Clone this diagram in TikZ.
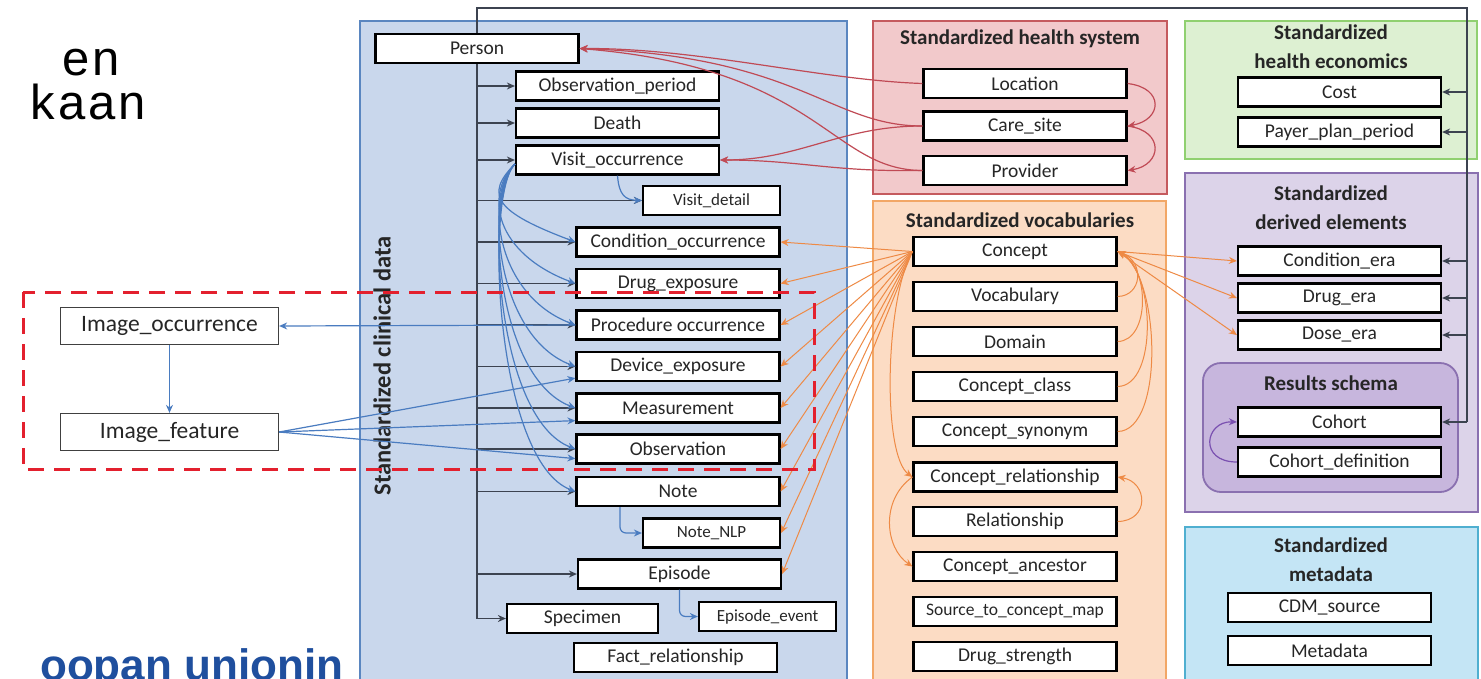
\documentclass[tikz,border=0pt]{standalone}
\usepackage{fontspec}
\setmainfont{Carlito}
\newfontfamily\slidefont[LetterSpace=6.0]{Liberation Sans}
\newfontfamily\slidebold{Liberation Sans}
\usetikzlibrary{arrows.meta, positioning, calc}

\definecolor{clinfill}{HTML}{C9D7EC}
\definecolor{clinline}{HTML}{5A86C0}
\definecolor{hsfill}{HTML}{F2C9CB}
\definecolor{hsline}{HTML}{C55A5E}
\definecolor{vocfill}{HTML}{FCDCC4}
\definecolor{vocline}{HTML}{F2A766}
\definecolor{ecofill}{HTML}{DDF0D2}
\definecolor{ecoline}{HTML}{90D070}
\definecolor{derfill}{HTML}{DCD3E9}
\definecolor{derline}{HTML}{8A70B0}
\definecolor{resfill}{HTML}{C7B6DD}
\definecolor{metafill}{HTML}{C4E5F5}
\definecolor{metaline}{HTML}{4FAFD0}
\definecolor{dashred}{HTML}{E3202E}
\definecolor{linkblue}{HTML}{4A7CC0}
\definecolor{linkred}{HTML}{C04A55}
\definecolor{linkorange}{HTML}{EE8A45}
\definecolor{linkpurple}{HTML}{7A50B0}
\definecolor{treegray}{HTML}{3C4350}
\definecolor{slideblue}{HTML}{1F4F9E}

\begin{document}
\begin{tikzpicture}[x=1pt, y=-1pt, >={Stealth[length=8pt,width=7pt]}]

% Styles
\tikzstyle{tbl} = [rectangle, draw=black, line width=2.2pt, fill=white, minimum width=203pt, minimum height=29pt, inner sep=1pt, text=black!85, font=\fontsize{19.5}{22}\selectfont]
\tikzstyle{tblsmall} = [tbl, minimum width=137pt, font=\fontsize{17}{20}\selectfont]
\tikzstyle{imgtbl} = [rectangle, draw=black!75, line width=1.3pt, fill=white, minimum width=218pt, minimum height=37pt, text=black!85, font=\fontsize{23.5}{26}\selectfont]
\tikzstyle{panel} = [line width=1.8pt]
\tikzstyle{ptitle} = [align=center, text=black!85, font=\bfseries\fontsize{21}{29}\selectfont]
\tikzstyle{treearrow} = [treegray, line width=1.2pt, ->]
\tikzstyle{bluearrow} = [linkblue, line width=1.2pt, ->]
\tikzstyle{redarrow} = [linkred, line width=1.2pt, ->]
\tikzstyle{orangearrow} = [linkorange, line width=1pt, ->]

\useasboundingbox (0,0) rectangle (1481,678);
\clip (0,0) rectangle (1481,678);
\fill[white] (0,0) rectangle (1481,678);

% --- Slide text behind the figure ---
\node (slidea) [anchor=base west, inner sep=0, text depth=0pt, font=\slidefont\fontsize{49}{56}\selectfont] at (62,75) {en};
\node (slideb) [anchor=base east, inner sep=0, text height=24pt, font=\slidefont\fontsize{49}{56}\selectfont] at (146,119) {kaan};
\node (slidec) [anchor=base west, inner sep=0, text=slideblue, font=\slidebold\bfseries\fontsize{44}{50}\selectfont] at (40,680) {oopan unionin};

% --- Panels ---
\draw[panel, fill=clinfill, draw=clinline] (360,21) rectangle (847,690);
\draw[panel, fill=hsfill, draw=hsline] (873,21) rectangle (1167,194);
\draw[panel, fill=vocfill, draw=vocline] (873,201) rectangle (1166,690);
\draw[panel, fill=ecofill, draw=ecoline] (1185,21) rectangle (1477,159);
\draw[panel, fill=derfill, draw=derline] (1185,173) rectangle (1478,512);
\draw[panel, fill=resfill, draw=derline, rounded corners=18pt] (1203,363) rectangle (1458,492);
\draw[panel, fill=metafill, draw=metaline] (1185,527) rectangle (1478,690);

\node (clintitle) [rotate=90, text=black!85, font=\bfseries\fontsize{24.5}{27}\selectfont] at (382,366) {Standardized clinical data};
\node (hstitle) [ptitle] at (1020,39) {Standardized health system};
\node (voctitle) [ptitle] at (1020,220) {Standardized vocabularies};
\node (ecotitle) [ptitle] at (1331,47) {Standardized\\health economics};
\node (dertitle) [ptitle] at (1331,208) {Standardized\\derived elements};
\node (restitle) [ptitle] at (1331,383) {Results schema};
\node (metatitle) [ptitle] at (1331,560) {Standardized\\metadata};

% --- Clinical tables ---
\node (person) [tbl] at (477,48.5) {Person};
\node (obsper) [tbl] at (617.5,86) {Observation\_period};
\node (death) [tbl] at (617.5,123) {Death};
\node (visocc) [tbl] at (617.5,160) {Visit\_occurrence};
\node (visdet) [tblsmall] at (711.5,200.5) {Visit\_detail};
\node (condocc) [tbl] at (678,242) {Condition\_occurrence};
\node (drugexp) [tbl] at (678,283.5) {Drug\_exposure};
\node (prococc) [tbl] at (678,325) {Procedure occurrence};
\node (devexp) [tbl] at (678,366.5) {Device\_exposure};
\node (meas) [tbl] at (678,408) {Measurement};
\node (obs) [tbl] at (678,449) {Observation};
\node (note) [tbl] at (678,491.5) {Note};
\node (notenlp) [tblsmall] at (711.5,533) {Note\_NLP};
\node (episode) [tbl] at (679.5,574) {Episode};
\node (specimen) [tbl, minimum width=151pt] at (582.5,618.5) {Specimen};
\node (epievent) [tblsmall] at (767.5,616.5) {Episode\_event};
\node (factrel) [tbl] at (675.5,657.5) {Fact\_relationship};

% --- Imaging extension ---
\node (imgocc) [imgtbl] at (169.5,326) {Image\_occurrence};
\node (imgfeat) [imgtbl] at (169.5,432) {Image\_feature};

% --- Health system ---
\node (loc) [tbl] at (1025,83.5) {Location};
\node (care) [tbl] at (1025,126) {Care\_site};
\node (prov) [tbl] at (1025,170.5) {Provider};

% --- Vocabularies ---
\node (concept) [tbl] at (1015,251.5) {Concept};
\node (vocab) [tbl] at (1015,296.5) {Vocabulary};
\node (domain) [tbl] at (1015,341.5) {Domain};
\node (cclass) [tbl] at (1015,386.5) {Concept\_class};
\node (csyn) [tbl] at (1015,431.5) {Concept\_synonym};
\node (crel) [tbl] at (1015,477) {Concept\_relationship};
\node (rel) [tbl] at (1015,521.5) {Relationship};
\node (canc) [tbl] at (1015,566.5) {Concept\_ancestor};
\node (srcmap) [tbl, font=\fontsize{17.5}{20}\selectfont] at (1015,611.5) {Source\_to\_concept\_map};
\node (dstr) [tbl] at (1015,656.5) {Drug\_strength};

% --- Economics, derived, results, metadata ---
\node (cost) [tbl] at (1339.5,92) {Cost};
\node (payer) [tbl] at (1339.5,132) {Payer\_plan\_period};
\node (condera) [tbl] at (1339.5,261) {Condition\_era};
\node (drugera) [tbl] at (1339.5,298) {Drug\_era};
\node (doseera) [tbl] at (1339.5,335) {Dose\_era};
\node (cohort) [tbl] at (1339.5,422) {Cohort};
\node (cohortdef) [tbl] at (1339.5,462) {Cohort\_definition};
\node (cdm) [tbl] at (1329.5,607.5) {CDM\_source};
\node (meta) [tbl] at (1329.5,650.5) {Metadata};

% --- Person tree and outer frame ---
\coordinate (trunk) at (477,8);
\coordinate (rtop) at (1467,8);
\draw[treegray, line width=1.2pt] (person.north -| trunk) -- (trunk) -- (rtop) -- (rtop |- cohort.east);
\draw[treegray, line width=1.2pt] (person.south -| trunk) -- (trunk |- specimen.west);
\foreach \t in {obsper, death, visocc, visdet, condocc, drugexp, prococc, devexp, meas, obs, note, episode, specimen}
  \draw[treearrow] (trunk |- \t.west) -- (\t.west);
\foreach \t in {cost, payer, condera, drugera, doseera, cohort}
  \draw[treearrow] (rtop |- \t.east) -- (\t.east);

% --- Visit links ---
\foreach \t in {condocc, drugexp, prococc, devexp, meas, obs, note}
  \draw[bluearrow] ([yshift=-4pt]visocc.west) .. controls (484,195) and ($(\t.west)+(-80,-30)$) .. (\t.west);
\draw[bluearrow] (visocc.south) .. controls (619,195) and (625,200) .. (visdet.west);
\draw[bluearrow, rounded corners=6pt] ([xshift=-58pt]note.south) |- (notenlp.west);
\draw[bluearrow, rounded corners=6pt] (episode.south) |- (epievent.west);

% --- Imaging links ---
\draw[bluearrow] (prococc.west) -- (imgocc.east);
\draw[bluearrow] (imgocc.south) -- (imgfeat.north);
\draw[bluearrow] (imgfeat.east) -- ([yshift=4pt]devexp.south west);
\draw[bluearrow] (imgfeat.east) -- ([yshift=3pt]meas.south west);
\draw[bluearrow] (imgfeat.east) -- ([yshift=6pt]obs.south west);

% --- Health system links ---
\draw[redarrow] (loc.west) .. controls (820,80) and (700,48) .. (person.east);
\draw[redarrow] (care.west) .. controls (830,126) and (800,56) .. (person.east);
\draw[redarrow] (prov.west) .. controls (830,170) and (820,68) .. (person.east);
\draw[redarrow] (care.west) .. controls (840,126) and (800,160) .. (visocc.east);
\draw[redarrow] (prov.west) .. controls (830,172) and (800,160) .. (visocc.east);
\draw[redarrow] (loc.east) .. controls (1165,88) and (1162,120) .. (care.east);
\draw[redarrow] (care.east) .. controls (1165,131) and (1162,165) .. (prov.east);

% --- Vocabulary links ---
\foreach \t in {condocc, drugexp, prococc, devexp, meas, obs, note, notenlp, episode}
  \draw[orangearrow] (concept.west) -- (\t.east);
\foreach \t in {condera, drugera, doseera}
  \draw[orangearrow] (concept.east) -- (\t.west);
\draw[orangearrow] (vocab.east) .. controls (1142,296) and (1145,262) .. (concept.east);
\draw[orangearrow] (domain.east) .. controls (1150,341) and (1150,268) .. (concept.east);
\draw[orangearrow] (cclass.east) .. controls (1158,386) and (1155,272) .. (concept.east);
\draw[orangearrow] (csyn.east) .. controls (1165,431) and (1160,276) .. (concept.east);
\draw[orangearrow] (rel.east) .. controls (1150,521) and (1148,482) .. (crel.east);
\draw[orangearrow] (concept.west) .. controls (885,300) and (882,455) .. (crel.west);
\draw[orangearrow] (crel.west) .. controls (880,500) and (885,548) .. (canc.west);

% --- Cohort link ---
\draw[linkpurple, line width=1.2pt, ->] (cohortdef.west) .. controls (1198,462) and (1205,421) .. (cohort.west);

% --- Red dashed highlight ---
\draw[dashred, line width=3pt, dash pattern=on 16pt off 10pt] (23,292) rectangle (814,469);

\end{tikzpicture}
\end{document}
